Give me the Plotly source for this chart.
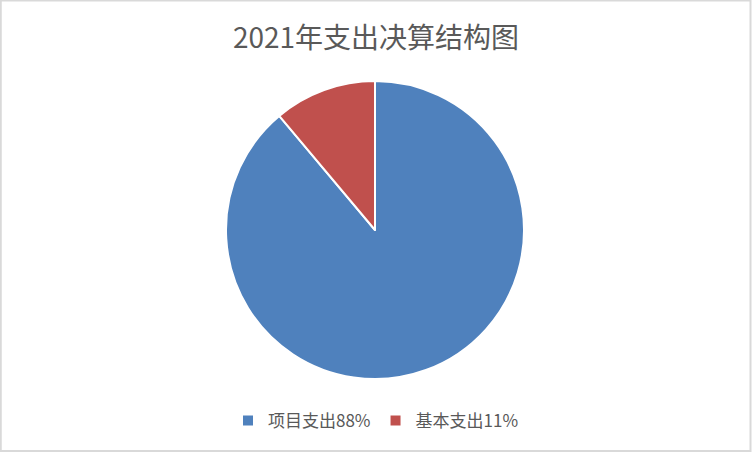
import plotly.graph_objects as go

labels = ["项目支出88%", "基本支出11%"]
values = [88, 11]
colors = ["#4F81BD", "#C0504D"]

W, H = 752, 452
font_cjk = "Noto Sans CJK SC, Noto Sans, sans-serif"

fig = go.Figure()
fig.add_trace(go.Pie(
    labels=labels,
    values=values,
    sort=False,
    direction="clockwise",
    rotation=0,
    marker=dict(colors=colors, line=dict(color="white", width=2)),
    textinfo="none",
    hoverinfo="label+value",
    domain=dict(x=[226 / W, 524 / W], y=[73 / H, 371 / H]),
))

# outer border of the chart area
fig.add_shape(type="rect", xref="paper", yref="paper",
              x0=0.001, y0=0.002, x1=0.998, y1=0.999,
              line=dict(color="#D9D9D9", width=2), layer="above")

fig.update_layout(
    width=W, height=H,
    margin=dict(l=0, r=0, t=0, b=0),
    paper_bgcolor="white",
    plot_bgcolor="white",
    title=dict(text="2021年支出决算结构图", x=0.5, xanchor="center",
               y=1 - 38 / H, yanchor="middle",
               font=dict(family=font_cjk, size=28, color="#595959")),
    legend=dict(orientation="h", x=0.5, xanchor="center",
                y=(H - 421) / H, yanchor="middle",
                font=dict(family=font_cjk, size=17, color="#595959"),
                tracegroupgap=0),
    showlegend=True,
)

fig.write_html("out.html", config={"displayModeBar": False},
               post_script="document.body.style.margin='0px';")
